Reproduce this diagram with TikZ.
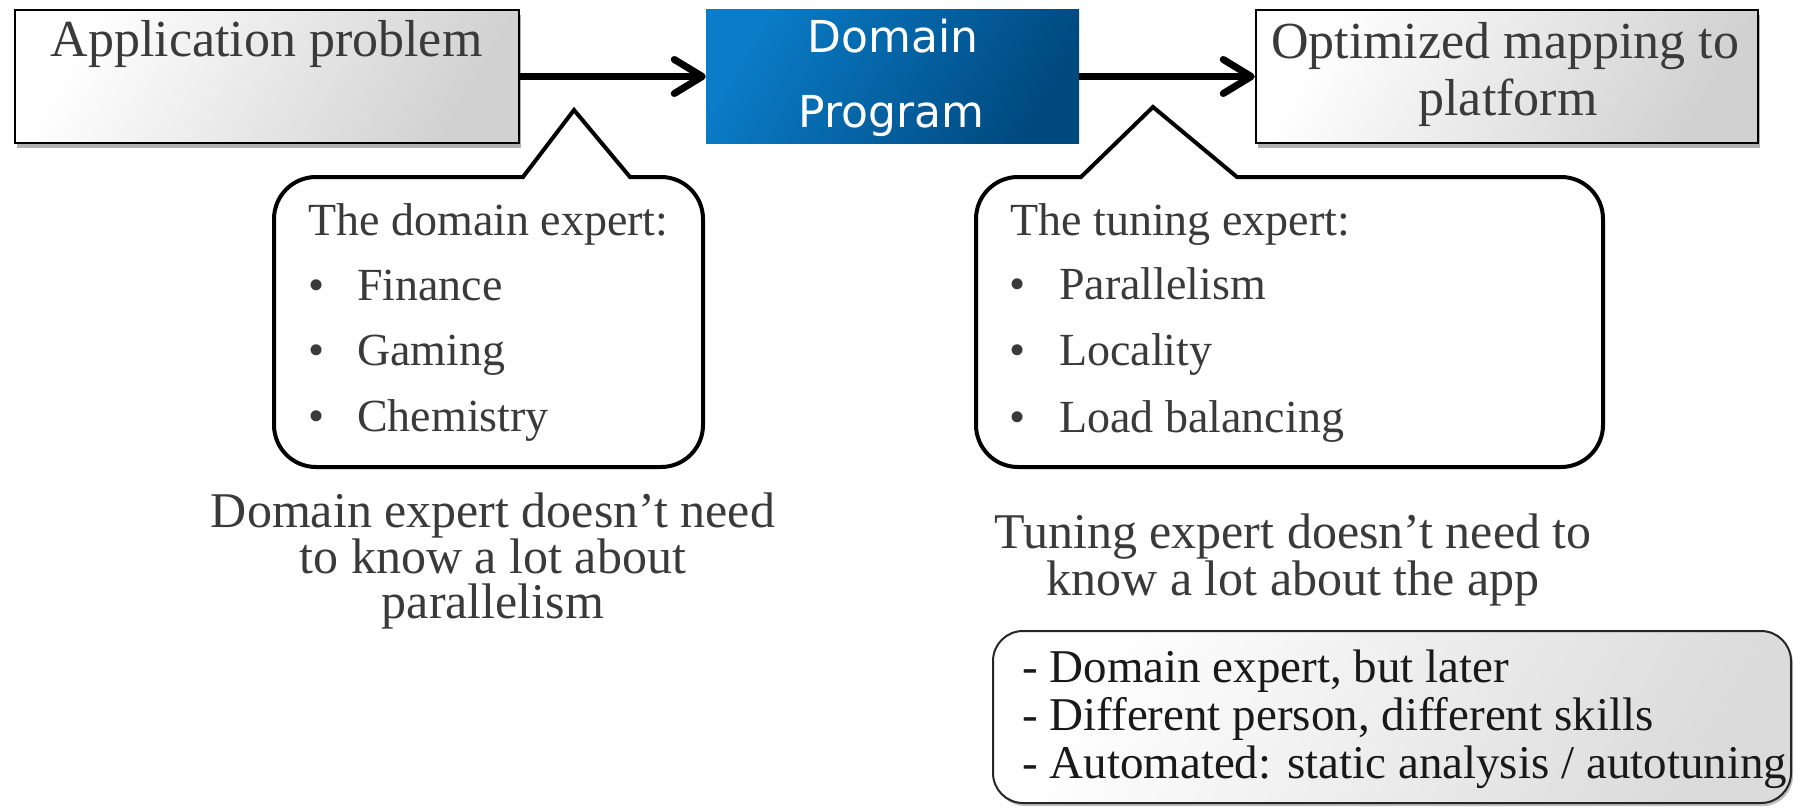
\documentclass[tikz,border=0pt]{standalone}
\usepackage{fontspec}
\setmainfont{Liberation Serif}
\newfontfamily\vsans{DejaVu Sans}
\usetikzlibrary{arrows.meta,shadows}
\newcommand\fsz[1]{\fontsize{#1}{#1}\selectfont}
\definecolor{txtgray}{HTML}{3A3A3A}
\definecolor{blueA}{HTML}{0A7CC8}
\definecolor{blueB}{HTML}{00497F}
\begin{document}
\begin{tikzpicture}[x=1pt,y=1pt,
  graybox/.style={draw=black, line width=2.5pt, inner sep=0pt,
    top color=white, bottom color=black!18, shading angle=60,
    drop shadow={shadow xshift=2pt, shadow yshift=-5pt, opacity=0.3, fill=black}},
  bluebox/.style={inner sep=0pt, top color=blueA, bottom color=blueB, shading angle=60},
  conn/.style={line width=7pt, -{Straight Barb[length=28pt, width=34pt, round]}},
  callout/.style={draw=black, line width=4pt, fill=white, line join=miter},
  label/.style={inner sep=0pt, anchor=base, text=txtgray},
  item/.style={inner sep=0pt, anchor=base west, text=txtgray, font=\fsz{46}},
  dot/.style={inner sep=0pt, anchor=base, text=txtgray, font=\fsz{46}},
  note/.style={draw=black!85, line width=2pt, rounded corners=30pt,
    top color=white, bottom color=black!14, shading angle=60,
    drop shadow={shadow xshift=2pt, shadow yshift=-3pt, opacity=0.25, fill=black}}
]
\useasboundingbox (0,0) rectangle (1794,-808);

% top row of boxes
\node[graybox, minimum width=504pt, minimum height=133pt] (A) at (267,-76.5) {};
\node[label, font=\fsz{52}] (Atext) at (266.5,-57) {Application problem};

\node[bluebox, minimum width=373pt, minimum height=134pt] (B) at (892.5,-76.5) {};
\node[inner sep=0pt, anchor=base, text=white, font=\vsans\fsz{44}] (Btext1) at (893,-53) {Domain};
\node[inner sep=0pt, anchor=base, text=white, font=\vsans\fsz{44}] (Btext2) at (891.5,-127) {Program};

\node[graybox, minimum width=502pt, minimum height=133pt] (C) at (1507,-76.5) {};
\node[label, font=\fsz{52}] (Ctext1) at (1505,-59) {Optimized mapping to};
\node[label, font=\fsz{52}] (Ctext2) at (1508,-115) {platform};

\draw[conn] (A.east) -- (B.west);
\draw[conn] (B.east) -- (C.west);

% speech bubble of the domain expert
\draw[callout] (630,-177) -- (661,-177) arc[start angle=90, end angle=0, radius=42pt]
  -- (703,-425) arc[start angle=0, end angle=-90, radius=42pt]
  -- (316,-467) arc[start angle=270, end angle=180, radius=42pt]
  -- (274,-219) arc[start angle=180, end angle=90, radius=42pt]
  -- (523,-177) -- (574,-110) -- cycle;
\node[label, anchor=base west, font=\fsz{46}] (dhead) at (308,-235) {The domain expert:};
\node[dot] (db1) at (317,-300) {\textbullet};
\node[item] (di1) at (357,-300) {Finance};
\node[dot] (db2) at (317,-365) {\textbullet};
\node[item] (di2) at (357,-365) {Gaming};
\node[dot] (db3) at (317,-431) {\textbullet};
\node[item] (di3) at (357,-431) {Chemistry};

% speech bubble of the tuning expert
\draw[callout] (1237,-177) -- (1561,-177) arc[start angle=90, end angle=0, radius=42pt]
  -- (1603,-425) arc[start angle=0, end angle=-90, radius=42pt]
  -- (1018,-467) arc[start angle=270, end angle=180, radius=42pt]
  -- (976,-219) arc[start angle=180, end angle=90, radius=42pt]
  -- (1081,-177) -- (1153,-107) -- cycle;
\node[label, anchor=base west, font=\fsz{46}] (thead) at (1010,-235) {The tuning expert:};
\node[dot] (tb1) at (1018,-299) {\textbullet};
\node[item] (ti1) at (1059,-299) {Parallelism};
\node[dot] (tb2) at (1018,-365) {\textbullet};
\node[item] (ti2) at (1059,-365) {Locality};
\node[dot] (tb3) at (1018,-432) {\textbullet};
\node[item] (ti3) at (1059,-432) {Load balancing};

% captions under the bubbles
\node[label, align=center, font=\fontsize{50}{44.5}\selectfont] (dcap) at (493,-618)
  {Domain expert doesn’t need\\to know a lot about\\parallelism};
\node[label, align=center, font=\fontsize{50}{43}\selectfont] (tcap) at (1293,-595)
  {Tuning expert doesn’t need to\\know a lot about the app};

% who does the tuning
\path[note] (993,-631) rectangle (1791,-803);
\node[inner sep=0pt, anchor=base west, align=left, text=black!90,
  font=\fontsize{47}{48}\selectfont] (notes) at (1022,-778)
  {- Domain expert, but later\\- Different person, different skills\\- Automated: static analysis / autotuning};
\end{tikzpicture}
\end{document}
